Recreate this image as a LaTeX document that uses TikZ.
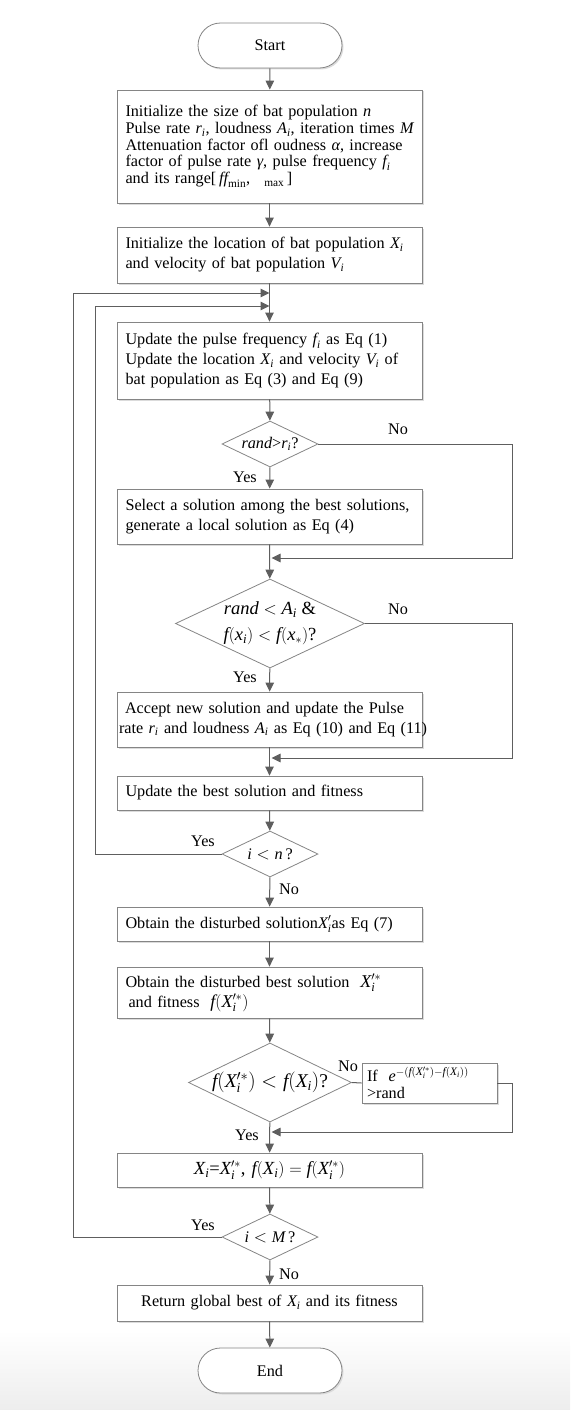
\documentclass[tikz,border=0pt]{standalone}
\usepackage{amsmath}
\usepackage{fontspec}
\setmainfont{Liberation Serif}
\usetikzlibrary{shapes.geometric,shapes.misc,arrows.meta,shadows}
\definecolor{ln}{HTML}{5E5E5E}
\definecolor{bd}{HTML}{858585}
\newcommand\mi[1]{\textit{#1}}
\begin{document}
\begin{tikzpicture}[x=1pt,y=-1pt,
  font=\fontsize{16.2}{20}\selectfont,
  shad/.style={drop shadow={shadow xshift=1.5pt,shadow yshift=-1.5pt,fill=black!14,opacity=1}},
  box/.style={draw=bd,line width=0.8pt,fill=white,shad,minimum width=305pt,
    text width=288pt,inner xsep=8.5pt,inner ysep=0pt,align=left},
  cbox/.style={box,align=center},
  term/.style={rounded rectangle,draw=bd,line width=0.8pt,fill=white,shad,
    minimum width=144pt,minimum height=45pt,inner sep=0pt},
  dia/.style={diamond,draw=bd,line width=0.8pt,fill=white,inner sep=0pt},
  dlab/.style={align=center,inner sep=0pt},
  conn/.style={draw=ln,line width=1pt},
  arr/.style={conn,-{Triangle[length=9pt,width=8.5pt]}},
  lbl/.style={inner sep=0pt}]

\shade[top color=white,bottom color=black!7] (0,1330) rectangle (570,1410);
\useasboundingbox (0,0) rectangle (570,1410);

% nodes
\node[term] (start) at (270,45.5) {Start};
\node[box,minimum height=113pt,font=\fontsize{16.2}{16.7}\selectfont] (b1) at (269.5,146.5) {\mbox{Initialize the size of bat population $\mi{n}$}\\
\mbox{Pulse rate $\mi{r}_{\mi{i}}$, loudness $\mi{A}_{\mi{i}}$, iteration times $\mi{M}$}\\
\mbox{Attenuation factor ofl oudness $\mi{α}$, increase}\\
\mbox{factor of pulse rate $\mi{γ}$, pulse frequency $\mi{f}_{\mi{i}}$}\\
\mbox{and its range[\,$\mi{ff}_{\text{min}}$,\hspace{14pt}$_{\text{max}}$\,]}};
\node[box,minimum height=56pt] (b2) at (269.5,255) {\mbox{Initialize the location of bat population $\mi{X}_{\mi{i}}$}\\
\mbox{and velocity of bat population $\mi{V}_{\mi{i}}$}};
\node[box,minimum height=77pt] (b3) at (269.5,360.5) {\mbox{Update the pulse frequency $\mi{f}_{\mi{i}}$ as Eq (1)}\\
\mbox{Update the location $\mi{X}_{\mi{i}}$ and velocity $\mi{V}_{\mi{i}}$ of}\\
\mbox{bat population as Eq (3) and Eq (9)}};
\node[dia,minimum width=96pt,minimum height=46pt,label={[dlab]center:{\mi{rand}>$\mi{r}_{\mi{i}}$?}}] (d1) at (270,444) {};
\node[box,minimum height=55pt] (b4) at (269.5,516.5) {\mbox{Select a solution among the best solutions,}\\
\mbox{generate a local solution as Eq (4)}};
\node[dia,minimum width=189pt,minimum height=89pt,label={[dlab,font=\fontsize{18.5}{26}\selectfont]center:{$\mi{rand} < \mi{A}_{\mi{i}}$ \&\\$\mi{f}(\mi{x}_{\mi{i}}) < \mi{f}(\mi{x}_{*})$?}}] (d2) at (270,623.5) {};
\node[box,minimum height=55pt,text width=301pt,inner xsep=2pt] (b5) at (269.5,719.5) {\mbox{\hspace*{6pt}Accept new solution and update the Pulse}\\
\mbox{rate $\mi{r}_{\mi{i}}$ and loudness $\mi{A}_{\mi{i}}$ as Eq (10) and Eq (11)}};
\node[box,minimum height=34pt] (b6) at (269.5,793) {Update the best solution and fitness};
\node[dia,minimum width=96pt,minimum height=46pt,label={[dlab]center:{$\mi{i} < \mi{n}\,$?}}] (d3) at (270,854) {};
\node[box,minimum height=34pt] (b7) at (269.5,924) {\mbox{Obtain the disturbed solution$\mi{X}_{\mi{i}}^{\prime}$as Eq (7)}};
\node[box,minimum height=51pt] (b8) at (269.5,992.5) {\mbox{Obtain the disturbed best solution\ \ {\fontsize{18}{20}\selectfont$\mi{X}_{\mi{i}}^{\prime *}$}}\\
\mbox{\hspace*{3pt}and fitness\ \ {\fontsize{18}{20}\selectfont$\mi{f}(\mi{X}_{\mi{i}}^{\prime *})$}}};
\node[dia,minimum width=163pt,minimum height=79pt,label={[dlab,font=\fontsize{19.5}{22}\selectfont]center:{\mbox{$\mi{f}(\mi{X}_{\mi{i}}^{\prime *}) < \mi{f}(\mi{X}_{\mi{i}})$?}}}] (d4) at (270,1082.5) {};
\node[draw=bd,line width=0.8pt,fill=white,shad,minimum width=135pt,minimum height=40pt,
  text width=125pt,inner xsep=5pt,inner ysep=0pt,align=left,font=\fontsize{16.2}{17}\selectfont] (b9) at (429.5,1083) {\mbox{If\ \ $\mi{e}^{-(\mi{f}(\mi{X}_{\mi{i}}^{\prime *})-\mi{f}(\mi{X}_{\mi{i}}))}$}\\>rand};
\node[cbox,minimum height=34pt,font=\fontsize{18.5}{20}\selectfont] (b10) at (269.5,1170) {\mbox{$\mi{X}_{\mi{i}}$=$\mi{X}_{\mi{i}}^{\prime *}$, $\mi{f}(\mi{X}_{\mi{i}}) = \mi{f}(\mi{X}_{\mi{i}}^{\prime *})$}};
\node[dia,minimum width=96pt,minimum height=46pt,label={[dlab]center:{$\mi{i} < \mi{M}\,$?}}] (d5) at (270,1237) {};
\node[cbox,minimum height=36pt] (b11) at (269.5,1303) {\mbox{Return global best of $\mi{X}_{\mi{i}}$ and its fitness}};
\node[term] (end) at (270,1370.5) {End};

% junction coordinates
\coordinate (jo) at (270,293);
\coordinate (ji) at (270,306);
\coordinate (j1) at (270,558);
\coordinate (j2) at (270,758);
\coordinate (j4) at (270,1132);
\coordinate (r1) at (512,444);
\coordinate (r2) at (512,623.5);
\coordinate (r4) at (512,1083);
\coordinate (li) at (95,854);
\coordinate (lo) at (73,1237);

% labels
\node[lbl] (n1) at (398,429) {No};
\node[lbl] (y1) at (245,477) {Yes};
\node[lbl] (n2) at (398,609) {No};
\node[lbl] (y2) at (245,677) {Yes};
\node[lbl] (y3) at (203,841) {Yes};
\node[lbl] (n3) at (289,889) {No};
\node[lbl] (n4) at (348,1066) {No};
\node[lbl] (y4) at (247,1135) {Yes};
\node[lbl] (y5) at (203,1225) {Yes};
\node[lbl] (n5) at (289,1274) {No};

% main flow
\draw[arr] (start) -- (b1);
\draw[arr] (b1) -- (b2);
\draw[arr] (b2) -- (b3);
\draw[arr] (b3) -- (d1);
\draw[arr] (d1) -- (b4);
\draw[arr] (b4) -- (d2);
\draw[arr] (d2) -- (b5);
\draw[arr] (b5) -- (b6);
\draw[arr] (b6) -- (d3);
\draw[arr] (d3) -- (b7);
\draw[arr] (b7) -- (b8);
\draw[arr] (b8) -- (d4);
\draw[arr] (d4) -- (b10);
\draw[arr] (b10) -- (d5);
\draw[arr] (d5) -- (b11);
\draw[arr] (b11) -- (end);

% side branches
\draw[arr] (d1.east) -- (r1) |- ([xshift=1.5pt]j1);
\draw[arr] (d2.east) -- (r2) |- ([xshift=1.5pt]j2);
\draw[conn] (d4.east) -- (b9.west);
\draw[arr] (b9.east) -- (r4) |- ([xshift=1.5pt]j4);

% loops
\draw[arr] (d3.west) -- (li) |- ([xshift=-0.5pt]ji);
\draw[arr] (d5.west) -- (lo) |- ([xshift=-0.5pt]jo);
\end{tikzpicture}
\end{document}
